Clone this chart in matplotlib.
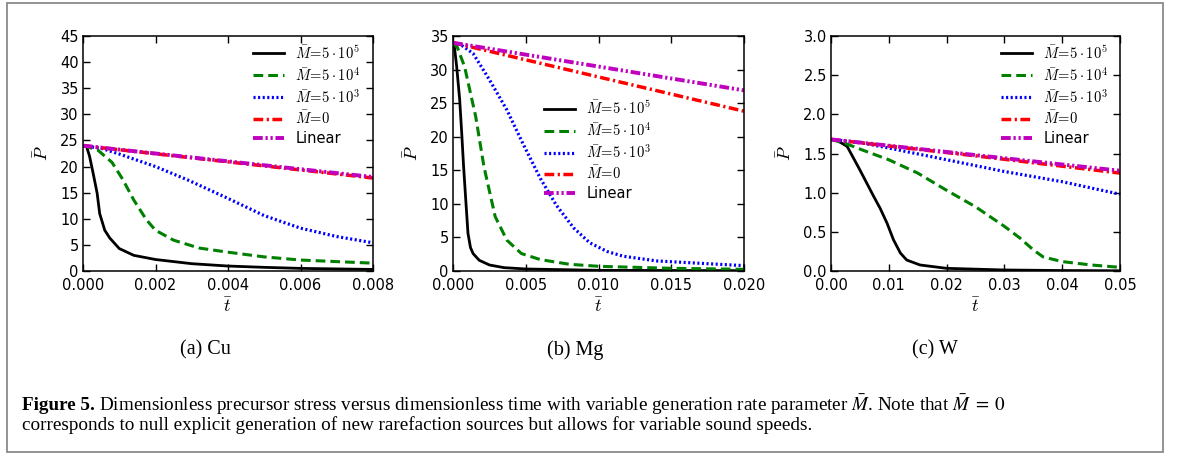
import matplotlib
matplotlib.use("Agg")
import matplotlib.pyplot as plt
from matplotlib.patches import Rectangle

# ---- data ----
labels = [r'$\bar{M}\!=\!5\cdot10^5$', r'$\bar{M}\!=\!5\cdot10^4$',
          r'$\bar{M}\!=\!5\cdot10^3$', r'$\bar{M}\!=\!0$', 'Linear']
subcaptions = ['(a) Cu', '(b) Mg', '(c) W']

# (a) Cu
t_black_a = [0, 0.0001, 0.00018, 0.00028, 0.00039, 0.00046, 0.0006, 0.00074, 0.001,
             0.0014, 0.002, 0.003, 0.004, 0.005, 0.006, 0.007, 0.008]
p_black_a = [24, 23.8, 22, 18.7, 14.9, 11, 7.8, 6.3, 4.3, 3.0, 2.2, 1.4, 0.95, 0.7, 0.5, 0.4, 0.3]
t_green_a = [0, 0.0004, 0.0008, 0.0011, 0.0014, 0.00175, 0.002, 0.0025, 0.0032, 0.004,
             0.005, 0.006, 0.007, 0.008]
p_green_a = [24, 23.2, 20.8, 17.5, 13.6, 9.8, 7.8, 5.9, 4.4, 3.6, 2.7, 2.1, 1.8, 1.5]
t_blue_a = [0, 0.0005, 0.001, 0.002, 0.0029, 0.004, 0.005, 0.006, 0.007, 0.008]
p_blue_a = [24, 23.5, 22.4, 20.0, 17.4, 13.9, 10.6, 8.2, 6.6, 5.4]
t_red_a = [0, 0.004, 0.008]
p_red_a = [24, 20.9, 17.8]
t_lin_a = [0, 0.008]
p_lin_a = [24, 18.0]

# (b) Mg
t_black_b = [0, 0.0001, 0.00025, 0.00046, 0.0006, 0.00073, 0.00088, 0.00103, 0.0012,
             0.00138, 0.0018, 0.0025, 0.0035, 0.005, 0.01, 0.02]
p_black_b = [34, 33.3, 30.5, 25.5, 20.5, 15.5, 10.5, 5.6, 3.5, 2.6, 1.6, 0.9, 0.5, 0.3, 0.1, 0.05]
t_green_b = [0, 0.0003, 0.0008, 0.00156, 0.00213, 0.0029, 0.0037, 0.0047, 0.006, 0.008,
             0.01, 0.015, 0.02]
p_green_b = [34, 33.3, 30.4, 23, 15.5, 8.1, 4.6, 2.6, 1.7, 1.0, 0.7, 0.4, 0.25]
t_blue_b = [0, 0.0006, 0.00138, 0.0025, 0.0037, 0.0048, 0.006, 0.0071, 0.0083, 0.0094,
            0.0106, 0.0117, 0.014, 0.0174, 0.02]
p_blue_b = [34, 33.6, 32.4, 28.5, 24, 19, 13.8, 9.8, 6.4, 4.2, 2.9, 2.2, 1.5, 1.1, 0.8]
t_red_b = [0, 0.01, 0.02]
p_red_b = [34, 28.9, 23.8]
t_lin_b = [0, 0.02]
p_lin_b = [34, 26.9]

# (c) W
t_black_c = [0, 0.001, 0.0028, 0.005, 0.0074, 0.0085, 0.0097, 0.0108, 0.012, 0.0131,
             0.0154, 0.02, 0.03, 0.04, 0.05]
p_black_c = [1.68, 1.67, 1.59, 1.29, 0.95, 0.8, 0.61, 0.40, 0.23, 0.14, 0.077, 0.034,
             0.013, 0.006, 0.003]
t_green_c = [0, 0.0028, 0.0056, 0.01, 0.015, 0.02, 0.025, 0.03, 0.0327, 0.035, 0.0367,
             0.04, 0.045, 0.05]
p_green_c = [1.68, 1.62, 1.54, 1.42, 1.25, 1.03, 0.82, 0.57, 0.42, 0.27, 0.18, 0.12,
             0.077, 0.047]
t_blue_c = [0, 0.005, 0.01, 0.02, 0.03, 0.04, 0.05]
p_blue_c = [1.68, 1.64, 1.57, 1.42, 1.27, 1.14, 0.98]
t_red_c = [0, 0.025, 0.05]
p_red_c = [1.68, 1.47, 1.25]
t_lin_c = [0, 0.05]
p_lin_c = [1.68, 1.28]

panels = [
    dict(series=[(t_black_a, p_black_a), (t_green_a, p_green_a), (t_blue_a, p_blue_a),
                 (t_red_a, p_red_a), (t_lin_a, p_lin_a)],
         xlim=(0, 0.008), xticks=[0, 0.002, 0.004, 0.006, 0.008], xfmt='%.3f',
         ylim=(0, 45), yticks=range(0, 50, 5), yfmt='%d', leg=(0.586, 0.965)),
    dict(series=[(t_black_b, p_black_b), (t_green_b, p_green_b), (t_blue_b, p_blue_b),
                 (t_red_b, p_red_b), (t_lin_b, p_lin_b)],
         xlim=(0, 0.02), xticks=[0, 0.005, 0.01, 0.015, 0.02], xfmt='%.3f',
         ylim=(0, 35), yticks=range(0, 40, 5), yfmt='%d', leg=(0.313, 0.73)),
    dict(series=[(t_black_c, p_black_c), (t_green_c, p_green_c), (t_blue_c, p_blue_c),
                 (t_red_c, p_red_c), (t_lin_c, p_lin_c)],
         xlim=(0, 0.05), xticks=[0, 0.01, 0.02, 0.03, 0.04, 0.05], xfmt='%.2f',
         ylim=(0, 3.0), yticks=[0, 0.5, 1.0, 1.5, 2.0, 2.5, 3.0], yfmt='%.1f',
         leg=(0.588, 0.965)),
]

styles = [
    dict(color='k', lw=2.0, ls='-'),
    dict(color=(0, 0.5, 0), lw=2.2, dashes=(7, 3.6)),
    dict(color='b', lw=2.3, dashes=(1.5, 1.8)),
    dict(color='r', lw=2.5, dashes=(7, 2.5, 1.6, 2.5)),
    dict(color=(0.75, 0, 0.75), lw=2.8, dashes=(7, 2, 1.6, 2, 1.6, 2)),
]

plt.rcParams['mathtext.fontset'] = 'cm'
plt.rcParams['lines.scale_dashes'] = False
plt.rcParams['font.family'] = 'DejaVu Sans'

W, H = 1181, 457
fig = plt.figure(figsize=(W / 100, H / 100), dpi=100)

axes_px = [(83, 373), (453, 744), (831, 1120)]
top_px, bot_px = 36, 271
sub_x = [205, 575, 935]

for (x0, x1), p, sx, cap in zip(axes_px, panels, sub_x, subcaptions):
    ax = fig.add_axes([x0 / W, (H - bot_px) / H, (x1 - x0) / W, (bot_px - top_px) / H])
    for (t, pv), st, lab in zip(p['series'], styles, labels):
        ax.plot(t, pv, label=lab, **st)
    ax.set_xlim(*p['xlim'])
    ax.set_ylim(*p['ylim'])
    ax.set_xticks(p['xticks'])
    ax.set_yticks(list(p['yticks']))
    ax.set_xticklabels([p['xfmt'] % v for v in p['xticks']])
    ax.set_yticklabels([p['yfmt'] % v for v in p['yticks']])
    ax.tick_params(direction='in', top=True, right=True, length=5, width=1,
                   labelsize=10.5)
    ax.tick_params(axis='x', pad=5)
    ax.tick_params(axis='y', pad=3)
    for s in ax.spines.values():
        s.set_linewidth(1.1)
    ax.set_xlabel(r'$\bar{t}$', fontsize=13, labelpad=3)
    ax.set_ylabel(r'$\bar{P}$', fontsize=13, labelpad=6)
    ax.legend(loc='upper left', bbox_to_anchor=p['leg'], frameon=False, fontsize=10.5,
              borderpad=0, borderaxespad=0, handlelength=2.1, handletextpad=0.8,
              labelspacing=0.28)
    fig.text(sx / W, (H - 350) / H, cap, ha='center', va='center',
             family='Liberation Serif', fontsize=14.5)

# figure caption
r = fig.canvas.get_renderer()
cx, y1, y2 = 22 / W, (H - 405) / H, (H - 425) / H
fs = 13.8
b = fig.text(cx, y1, 'Figure 5.', family='Liberation Serif', weight='bold',
             fontsize=fs, va='center')
bb = b.get_window_extent(r)
fig.text((bb.x1 + 4) / W, y1,
         r'Dimensionless precursor stress versus dimensionless time with variable '
         r'generation rate parameter $\bar{M}$. Note that $\bar{M}\;=\;0$',
         family='Liberation Serif', fontsize=fs, va='center', math_fontfamily='stix')
fig.text(cx, y2, 'corresponds to null explicit generation of new rarefaction sources '
         'but allows for variable sound speeds.', family='Liberation Serif',
         fontsize=fs, va='center')

fig.patches.append(Rectangle((7 / W, 5 / H), 1156 / W, 449 / H, transform=fig.transFigure,
                             fill=False, edgecolor='#8a8a8a', lw=1.3))

fig.savefig('out.png', dpi=100)
